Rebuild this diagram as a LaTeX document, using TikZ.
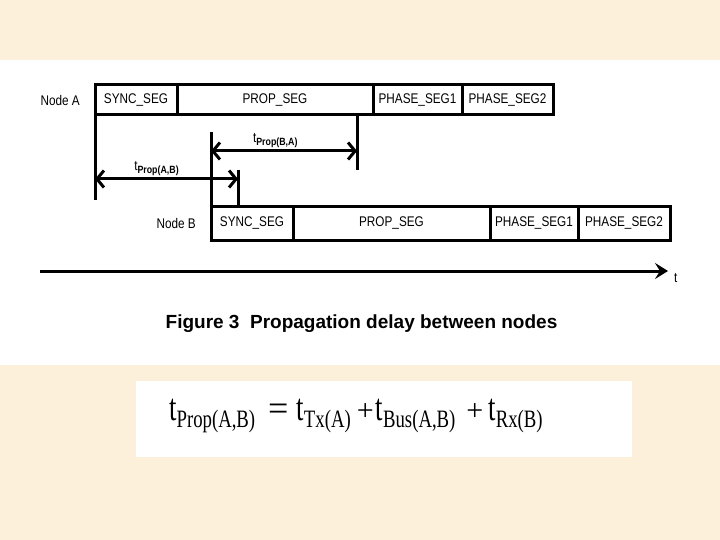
\documentclass[tikz,border=0pt]{standalone}
\usepackage{fontspec}
\usetikzlibrary{positioning, arrows.meta}

\newfontfamily\segfont[FakeStretch=0.84]{Liberation Sans}
\newfontfamily\capfont{Liberation Sans}
\newfontfamily\eqfont[FakeStretch=0.7]{Liberation Serif}
\newfontfamily\eqsubfont[FakeStretch=0.75]{Liberation Serif}
\newfontfamily\opfont{Liberation Serif}
\definecolor{parchment}{RGB}{252,240,218}

\newcommand{\eqT}[1]{{\eqfont\fontsize{38pt}{38pt}\selectfont #1}}
\newcommand{\eqS}[1]{\raisebox{-7pt}{\eqsubfont\fontsize{25pt}{25pt}\selectfont #1}}
\newcommand{\eqOp}[1]{{\opfont\fontsize{36pt}{36pt}\selectfont #1}}
\newcommand{\eqPlus}[1]{{\opfont\fontsize{30pt}{30pt}\selectfont #1}}
\newcommand{\tsub}[1]{t\raisebox{-3pt}{\bfseries\fontsize{10.5pt}{10.5pt}\selectfont #1}}

\begin{document}
\begin{tikzpicture}[
    x=1pt, y=-1pt,
    seg/.style={draw, line width=3pt, outer sep=0pt, inner sep=0pt, minimum height=30pt,
                font=\segfont\fontsize{14pt}{14pt}\selectfont},
    segB/.style={seg, minimum height=33pt},
    lbl/.style={font=\segfont\fontsize{14pt}{14pt}\selectfont, inner sep=0pt},
    edge/.style={line width=3pt},
    dim/.style={line width=3pt, {Straight Barb[length=7pt,width=17pt]}-{Straight Barb[length=7pt,width=17pt]}},
    axis/.style={line width=3pt, -{Stealth[length=13pt,width=16pt,inset=5pt]}},
]
\useasboundingbox (0,0) rectangle (720,540);

% slide background
\fill[parchment] (0,0) rectangle (720,540);
\fill[white] (0,60) rectangle (720,365);
\fill[white] (136,381) rectangle (632,457);

% node A bit time
\node[seg, minimum width=82pt, anchor=north west] (syncA) at (95,85) {SYNC\_SEG};
\node[seg, minimum width=196pt, right=0pt of syncA] (propA) {PROP\_SEG};
\node[seg, minimum width=89pt, right=0pt of propA] (ph1A) {PHASE\_SEG1};
\node[seg, minimum width=91pt, right=0pt of ph1A] (ph2A) {PHASE\_SEG2};
\node[lbl, left=15pt of syncA] (nodeA) {Node A};

% node B bit time
\node[segB, minimum width=82pt, anchor=north west] (syncB) at (211,207) {SYNC\_SEG};
\node[segB, minimum width=197pt, right=0pt of syncB] (propB) {PROP\_SEG};
\node[segB, minimum width=88pt, right=0pt of propB] (ph1B) {PHASE\_SEG1};
\node[segB, minimum width=92pt, right=0pt of ph1B] (ph2B) {PHASE\_SEG2};
\node[lbl, left=15pt of syncB] (nodeB) {Node B};

% marker lines
\coordinate (aTail) at (95,200);
\coordinate (bHead) at (211,132);
\coordinate (baTop) at (357,115);
\coordinate (baBot) at (357,170);
\coordinate (abTop) at (238,170);
\draw[edge] (syncA.south west) -- (aTail);
\draw[edge] (syncB.north west) -- (bHead);
\draw[edge] (baTop) -- (baBot);
\draw[edge] (abTop) -- (abTop |- syncB.north);

% propagation delays
\coordinate (baL) at (211,151);
\coordinate (baR) at (357,151);
\coordinate (abL) at (95,179);
\coordinate (abR) at (238,179);
\draw[dim] (baL) -- node[lbl, above=2pt, pos=.44] (lblBA) {\tsub{Prop(B,A)}} (baR);
\draw[dim] (abL) -- node[lbl, above=2pt, pos=.43] (lblAB) {\tsub{Prop(A,B)}} (abR);

% time axis
\coordinate (axStart) at (40,271);
\coordinate (axEnd) at (668,271);
\draw[axis] (axStart) -- (axEnd);
\node[lbl, anchor=west] (tlab) at ([xshift=6pt,yshift=-7pt]axEnd) {t};

\node[anchor=base, inner sep=0pt, font=\capfont\bfseries\fontsize{19pt}{19pt}\selectfont] (caption)
    at (361.5,328) {Figure 3\ \ Propagation delay between nodes};

% delay formula
\node[anchor=base west, inner sep=0pt] (formula) at (169,420)
    {\eqT{t}\eqS{Prop(A,B)}\hspace{13pt}\eqOp{=}\hspace{8pt}\eqT{t}\eqS{Tx(A)}\hspace{6pt}\eqPlus{+}\hspace{2pt}\eqT{t}\eqS{Bus(A,B)}\hspace{11pt}\eqPlus{+}\hspace{5pt}\eqT{t}\eqS{Rx(B)}};
\end{tikzpicture}
\end{document}
